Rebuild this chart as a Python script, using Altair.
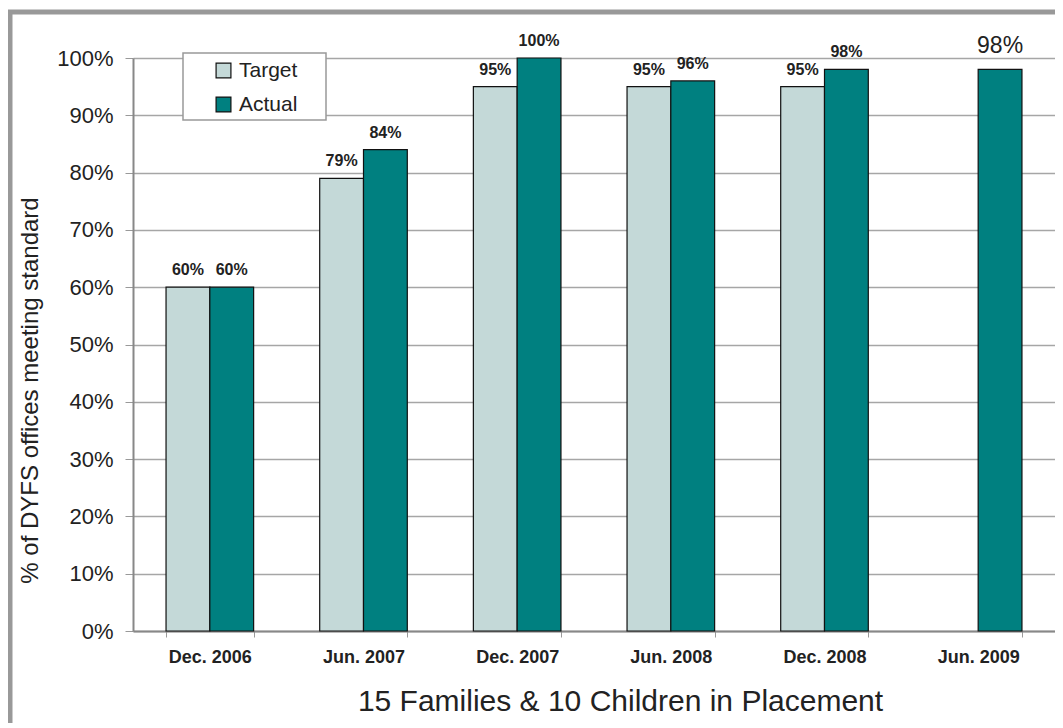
import altair as alt
import pandas as pd

categories = ["Dec. 2006", "Jun. 2007", "Dec. 2007", "Jun. 2008", "Dec. 2008", "Jun. 2009"]
target = [0.60, 0.79, 0.95, 0.95, 0.95, None]
actual = [0.60, 0.84, 1.00, 0.96, 0.98, 0.98]
series = ["Target", "Actual"]
colors = ["#c4d9d8", "#008080"]

rows = []
for i, c in enumerate(categories):
    for s, vals in zip(series, [target, actual]):
        v = vals[i]
        if v is not None:
            rows.append({"period": c, "series": s, "value": v,
                         "big": c == "Jun. 2009"})
df = pd.DataFrame(rows)

FONT = "Liberation Sans"

x = alt.X("period:N", sort=categories, title="15 Families & 10 Children in Placement",
          scale=alt.Scale(paddingInner=0.43, paddingOuter=0.215),
          axis=alt.Axis(labelAngle=0, labelFontWeight="bold", labelFontSize=18,
                        labelColor="#222", labelPadding=11, tickBand="extent",
                        tickSize=6, tickColor="#999", domainColor="#888",
                        domainWidth=2, titleFontSize=30, titleFontWeight="normal",
                        titleColor="#222", titlePadding=20, titleX=487,
                        labelFont=FONT, titleFont=FONT))
xo = alt.XOffset("series:N", sort=series, scale=alt.Scale(domain=series, paddingInner=0))
y = alt.Y("value:Q", title="% of DYFS offices meeting standard",
          scale=alt.Scale(domain=[0, 1], nice=False),
          axis=alt.Axis(values=[i / 10 for i in range(11)], format=".0%",
                        labelFontSize=22, labelColor="#222", labelPadding=12,
                        tickSize=8, tickColor="#999", gridColor="#a6a6a6",
                        gridWidth=1.5, domainColor="#888", domainWidth=2,
                        titleFontSize=24, titleFontWeight="normal", titleColor="#222",
                        titlePadding=14, titleY=332, labelFont=FONT, titleFont=FONT))

bars = alt.Chart(df).mark_bar(stroke="#111", strokeWidth=1.2).encode(
    x=x, xOffset=xo, y=y,
    color=alt.Color("series:N", sort=series,
                    scale=alt.Scale(domain=series, range=colors),
                    legend=alt.Legend(title=None, orient="none", legendX=50, legendY=-5,
                                      padding=7, symbolOffset=23, symbolType="square",
                                      symbolSize=220, symbolStrokeColor="#111",
                                      symbolStrokeWidth=1.2, labelFontSize=21,
                                      labelFont=FONT, labelColor="#222", rowPadding=12,
                                      labelOffset=5)),
)

labels_small = alt.Chart(df).transform_filter("!datum.big").mark_text(
    dy=-17, fontWeight="bold", fontSize=16, font=FONT, color="#222"
).encode(x=x, xOffset=xo, y=y, text=alt.Text("value:Q", format=".0%"))

labels_big = alt.Chart(df).transform_filter("datum.big").mark_text(
    dy=-23, fontSize=23, font=FONT, color="#222"
).encode(x=x, xOffset=xo, y=y, text=alt.Text("value:Q", format=".0%"))

one = pd.DataFrame({"a": [0]})
frame = alt.Chart(one).mark_rect(
    fill=None, stroke="#999", strokeWidth=5
).encode(x=alt.value(-123), x2=alt.value(1000), y=alt.value(-46), y2=alt.value(720))

legend_box = alt.Chart(one).mark_rect(
    fill="white", stroke="#999", strokeWidth=1.5
).encode(x=alt.value(50), x2=alt.value(193), y=alt.value(-5), y2=alt.value(62))

chart = alt.layer(frame, bars, labels_small, labels_big, legend_box).properties(
    width=922, height=573,
    autosize=alt.AutoSizeParams(type="none"),
    padding={"left": 125, "top": 50, "right": 0, "bottom": 92},
).configure_view(stroke="#999", strokeWidth=1.5).configure(background="white")

chart.save("out.html", embed_options={"renderer": "svg", "actions": False})
